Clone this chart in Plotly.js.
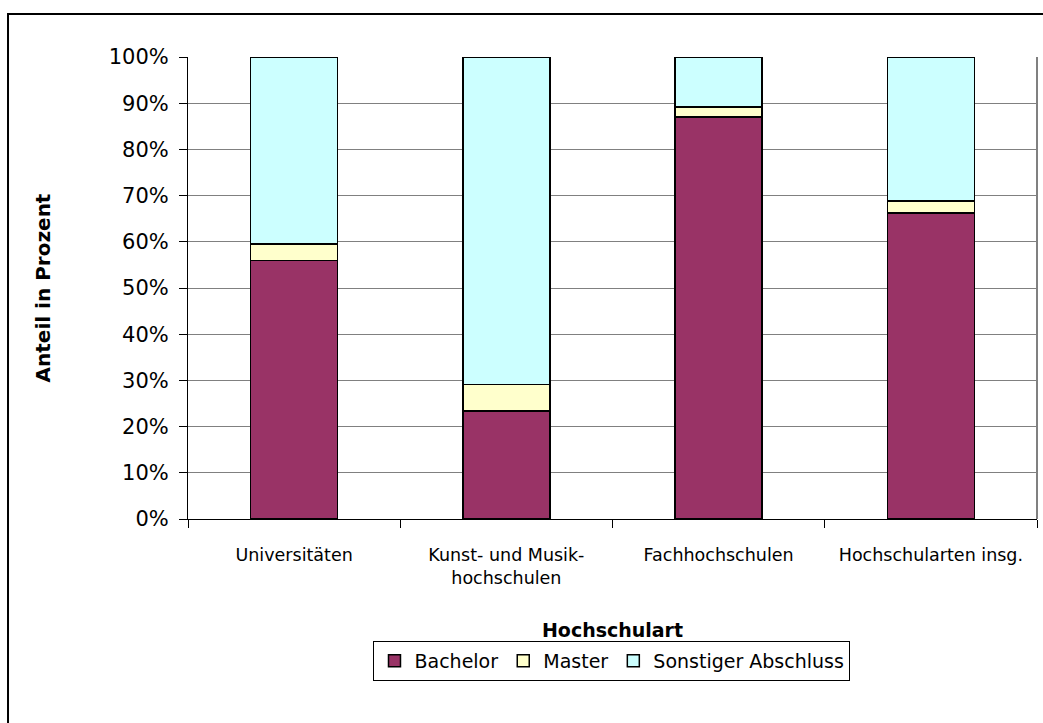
<!DOCTYPE html>
<html>
<head>
<meta charset="utf-8">
<script src="https://cdn.plot.ly/plotly-3.0.1.min.js"></script>
<style>html,body{margin:0;padding:0;background:#fff;}#chart{width:1043px;height:723px;}</style>
</head>
<body>
<div id="chart"></div>
<script>
const categories = ["Universitäten", "Kunst- und Musik-<br>hochschulen", "Fachhochschulen", "Hochschularten insg."];
const bachelor = [55.9, 23.4, 87.0, 66.2];
const master = [3.6, 5.7, 2.2, 2.6];
const sonstiger = [40.5, 70.9, 10.8, 31.2];
const seriesNames = ["Bachelor", "Master", "Sonstiger Abschluss"];
const yTickVals = [0, 10, 20, 30, 40, 50, 60, 70, 80, 90, 100];
const yTickText = ["0%", "10%", "20%", "30%", "40%", "50%", "60%", "70%", "80%", "90%", "100%"];

const FONT = "DejaVu Sans, Verdana, sans-serif";
const line = {color: "#000000", width: 1.5};
const traces = [
  {type: "bar", name: seriesNames[0], x: categories, y: bachelor, marker: {color: "#993366", line: line}},
  {type: "bar", name: seriesNames[1], x: categories, y: master, marker: {color: "#FFFFCC", line: line}},
  {type: "bar", name: seriesNames[2], x: categories, y: sonstiger, marker: {color: "#CCFFFF", line: line}}
];

const layout = {
  width: 1043, height: 723,
  barmode: "stack",
  bargap: 0.59,
  paper_bgcolor: "#ffffff",
  plot_bgcolor: "#ffffff",
  font: {family: FONT, color: "#000000", size: 16},
  margin: {l: 188, r: 6, t: 57, b: 204},
  showlegend: true,
  legend: {
    orientation: "h", x: 0.4994, xanchor: "center", y: -0.264, yanchor: "top",
    bordercolor: "#000000", borderwidth: 1, bgcolor: "#ffffff",
    font: {family: FONT, size: 19}, traceorder: "normal",
    itemwidth: 30, tracegroupgap: 0
  },
  xaxis: {
    type: "category",
    tickson: "boundaries",
    ticks: "outside", ticklen: 8, tickcolor: "#000000", tickwidth: 1,
    ticklabelstandoff: 20,
    showline: true, linecolor: "#000000", linewidth: 1,
    showgrid: false,
    tickfont: {family: FONT, size: 17.5},
    title: {text: "<b>Hochschulart</b>", font: {family: FONT, size: 19}, standoff: 36}
  },
  yaxis: {
    range: [0, 100],
    tickvals: yTickVals, ticktext: yTickText,
    ticks: "outside", ticklen: 8, tickcolor: "#000000", tickwidth: 1,
    ticklabelstandoff: 6,
    showline: true, linecolor: "#000000", linewidth: 1,
    showgrid: true, gridcolor: "#808080", gridwidth: 1,
    zeroline: false,
    tickfont: {family: FONT, size: 21},
    title: {text: "<b>Anteil in Prozent</b>", font: {family: FONT, size: 20}, standoff: 52}
  },
  shapes: [
    {type: "line", xref: "paper", yref: "paper", x0: 1, x1: 1, y0: 0, y1: 1, line: {color: "#808080", width: 2}},
    {type: "rect", xref: "paper", yref: "paper", x0: -0.212, x1: 1.03, y0: -0.45, y1: 1.093, line: {color: "#000000", width: 2}, layer: "below"}
  ]
};

Plotly.newPlot("chart", traces, layout, {displayModeBar: false, staticPlot: true});
</script>
</body>
</html>
